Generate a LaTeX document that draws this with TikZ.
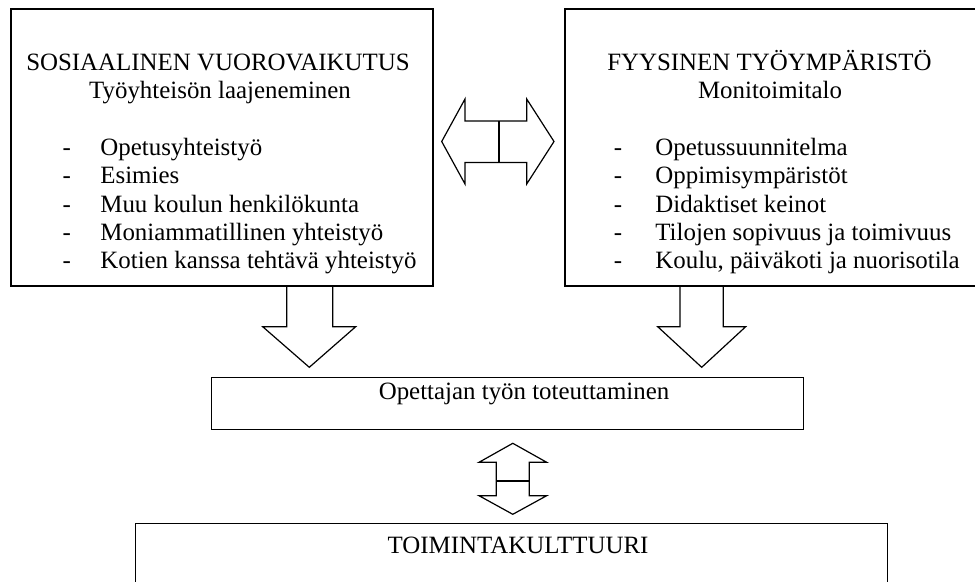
\documentclass[tikz,border=0pt]{standalone}
\usepackage{fontspec}
\setmainfont{Liberation Serif}

\tikzset{
  box/.style={draw, line width=0.6pt, inner sep=0pt},
  title/.style={inner sep=0pt, anchor=base},
  item/.style={inner sep=0pt, anchor=base west},
  blockarrow/.style={draw, line width=0.6pt, line join=miter},
}

\begin{document}
\begin{tikzpicture}[x=0.5pt, y=-0.5pt, font=\fontsize{12.45}{14}\selectfont]
  \useasboundingbox (0,0) rectangle (975,582);
  \clip (0,0) rectangle (975,582);

  % the four boxes
  \node [box, minimum width=211pt, minimum height=138.5pt] (social) at (222,147.5) {};
  \node [box, minimum width=210pt, minimum height=138.5pt] (physical) at (775,147.5) {};
  \node [box, minimum width=295.8pt, minimum height=25.8pt] (work) at (507.5,403.5) {};
  \node [box, minimum width=376pt, minimum height=48.4pt] (culture) at (511.3,571.7) {};

  % titles
  \node [title] (socialtitle) at (218,70.7) {SOSIAALINEN VUOROVAIKUTUS};
  \node [title] (socialsub) at (220,98.3) {Työyhteisön laajeneminen};
  \node [title] (physicaltitle) at (769.5,70.7) {FYYSINEN TYÖYMPÄRISTÖ};
  \node [title] (physicalsub) at (770,98.3) {Monitoimitalo};
  \node [title] (worktext) at (524,400) {Opettajan työn toteuttaminen};
  \node [item] (culturetext) at (387.3,553) {TOIMINTAKULTTUURI};

  % lists
  \foreach \txt [count=\i] in {Opetusyhteistyö, Esimies, Muu koulun henkilökunta,
      Moniammatillinen yhteistyö, Kotien kanssa tehtävä yhteistyö} {
    \node [title] (sd\i) at (66.7,127.4+28.3*\i) {-};
    \node [item] (s\i) at (100,127.4+28.3*\i) {\txt};
  }
  \foreach \txt [count=\i] in {Opetussuunnitelma, Oppimisympäristöt, Didaktiset keinot,
      Tilojen sopivuus ja toimivuus, {Koulu, päiväkoti ja nuorisotila}} {
    \node [title] (pd\i) at (618,127.4+28.3*\i) {-};
    \node [item] (p\i) at (655,127.4+28.3*\i) {\txt};
  }

  % double arrow between the upper boxes
  \draw [blockarrow] (441.7,141.5) -- (465,99) -- (465,121) -- (526.7,121) -- (526.7,99)
    -- (554,141.5) -- (526.7,184) -- (526.7,162.5) -- (465,162.5) -- (465,184) -- cycle;
  \draw [blockarrow] (499,121) -- (499,162.5);

  % arrows down to the middle box
  \draw [blockarrow] (286.7,286) -- (286.7,326.7) -- (262.7,326.7) -- (309.3,367.3)
    -- (355.7,326.7) -- (332.7,326.7) -- (332.7,286);
  \draw [blockarrow] (680,286) -- (680,326.7) -- (657.7,326.7) -- (701.7,367.3)
    -- (745.7,326.7) -- (723.3,326.7) -- (723.3,286);

  % double arrow down to the culture box
  \draw [blockarrow] (512.8,443.3) -- (546.7,462.3) -- (529.3,462.3) -- (529.3,495.7)
    -- (546.7,495.7) -- (512.8,514.3) -- (479,495.7) -- (496.3,495.7) -- (496.3,462.3)
    -- (479,462.3) -- cycle;
  \draw [blockarrow] (496.3,481) -- (529.3,481);
\end{tikzpicture}
\end{document}
